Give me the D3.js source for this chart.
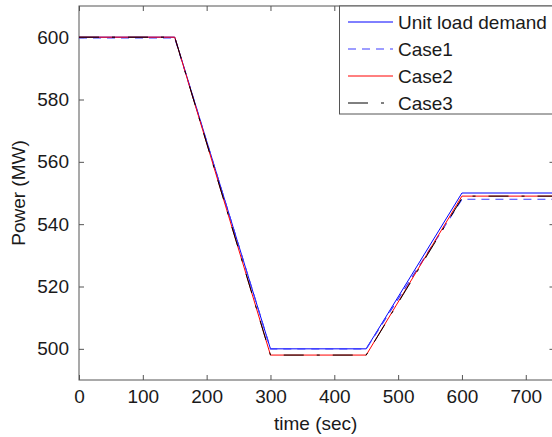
<!DOCTYPE html>
<html>
<head>
<meta charset="utf-8">
<script src="https://cdn.jsdelivr.net/npm/d3@7"></script>
<style>
  html, body { margin: 0; padding: 0; background: #fff; }
  svg { display: block; }
  text { font-family: "Liberation Sans", Arial, Helvetica, sans-serif; fill: #1a1a1a; }
</style>
</head>
<body>
<svg id="chart" width="552" height="437"></svg>
<script>
// Time axis (s) breakpoints and the power traces (MW) of each case
const demandTime = [0, 150, 300, 450, 600, 750];
const demandPower = [600, 600, 500, 500, 550, 550];

const case1Time = [0, 150, 300, 450, 600, 750];
const case1Power = [599.8, 599.8, 500, 500, 548, 548];

const case2Time = [0, 150, 300, 450, 600, 750];
const case2Power = [600, 600, 498, 498, 549, 549];

const case3Time = [0, 150, 300, 450, 602, 750];
const case3Power = [600, 600, 498, 498, 549, 549];

const xTicks = [0, 100, 200, 300, 400, 500, 600, 700];
const yTicks = [500, 520, 540, 560, 580, 600];
const legendLabels = ["Unit load demand", "Case1", "Case2", "Case3"];

const svg = d3.select("#chart");
const plotLeft = 79, plotRight = 554.5, plotTop = 6, plotBottom = 380;

const x = d3.scaleLinear().domain([0, 745]).range([plotLeft, plotRight]);
const y = d3.scaleLinear().domain([490, 610]).range([plotBottom, plotTop]);

const axisColor = "#555";
const tickLen = 5;

// Plot area box
svg.append("rect")
  .attr("x", x(0)).attr("y", y(610))
  .attr("width", x(745) - x(0)).attr("height", y(490) - y(610))
  .attr("fill", "none").attr("stroke", axisColor).attr("stroke-width", 1);

// Bottom axis with inward ticks
const xAxis = svg.append("g")
  .attr("transform", `translate(0,${y(490)})`)
  .call(d3.axisBottom(x).tickValues(xTicks).tickSizeInner(-tickLen).tickSizeOuter(0).tickPadding(9));
xAxis.select(".domain").remove();
xAxis.selectAll("line").attr("stroke", axisColor);
xAxis.selectAll("text").attr("font-size", 19).attr("dy", "0.75em").attr("fill", "#1a1a1a");

// Top axis ticks
const xTop = svg.append("g")
  .attr("transform", `translate(0,${y(610)})`)
  .call(d3.axisTop(x).tickValues(xTicks).tickSizeInner(-tickLen).tickSizeOuter(0).tickFormat(""));
xTop.select(".domain").remove();
xTop.selectAll("line").attr("stroke", axisColor);

// Left axis with inward ticks
const yAxis = svg.append("g")
  .attr("transform", `translate(${x(0)},0)`)
  .call(d3.axisLeft(y).tickValues(yTicks).tickSizeInner(-tickLen).tickSizeOuter(0).tickPadding(10));
yAxis.select(".domain").remove();
yAxis.selectAll("line").attr("stroke", axisColor);
yAxis.selectAll("text").attr("font-size", 19).attr("fill", "#1a1a1a");

// Right axis ticks
const yRight = svg.append("g")
  .attr("transform", `translate(${x(745)},0)`)
  .call(d3.axisRight(y).tickValues(yTicks).tickSizeInner(-tickLen).tickSizeOuter(0).tickFormat(""));
yRight.select(".domain").remove();
yRight.selectAll("line").attr("stroke", axisColor);

// Axis titles
svg.append("text")
  .attr("x", (x(0) + x(745)) / 2 - 1).attr("y", 430)
  .attr("text-anchor", "middle").attr("font-size", 19)
  .text("time (sec)");
svg.append("text")
  .attr("transform", `translate(25,${(y(490) + y(610)) / 2}) rotate(-90)`)
  .attr("text-anchor", "middle").attr("font-size", 19)
  .text("Power (MW)");

// Traces
const line = d3.line().x(d => x(d[0])).y(d => y(d[1]));
const series = [
  { label: legendLabels[0], t: demandTime, p: demandPower, color: "#0000ff", dash: "none", w: 1 },
  { label: legendLabels[1], t: case1Time, p: case1Power, color: "#3c3cff", dash: "8,6", w: 1.2 },
  { label: legendLabels[2], t: case2Time, p: case2Power, color: "#ff0000", dash: "none", w: 1 },
  { label: legendLabels[3], t: case3Time, p: case3Power, color: "#000000", dash: "20,13,3,13", w: 1 }
];

svg.append("clipPath").attr("id", "plotClip")
  .append("rect")
  .attr("x", x(0)).attr("y", y(610))
  .attr("width", x(745) - x(0)).attr("height", y(490) - y(610));

const plot = svg.append("g").attr("clip-path", "url(#plotClip)");
series.forEach(s => {
  plot.append("path")
    .datum(s.t.map((t, i) => [t, s.p[i]]))
    .attr("d", line)
    .style("fill", "none")
    .style("stroke", s.color)
    .style("stroke-width", s.w)
    .style("stroke-dasharray", s.dash);
});

// Legend
const legend = svg.append("g");
legend.append("rect")
  .attr("x", 339.5).attr("y", 6)
  .attr("width", 230).attr("height", 108)
  .attr("fill", "#fff").attr("stroke", axisColor).attr("stroke-width", 1);
series.forEach((s, i) => {
  const cy = 22 + i * 27;
  legend.append("path")
    .attr("d", `M348,${cy}H393`)
    .style("fill", "none")
    .style("stroke", s.color)
    .style("stroke-width", s.w)
    .style("stroke-dasharray", s.dash);
  legend.append("text")
    .attr("x", 398).attr("y", cy).attr("dy", "0.35em")
    .attr("font-size", 19)
    .text(s.label);
});
</script>
</body>
</html>
